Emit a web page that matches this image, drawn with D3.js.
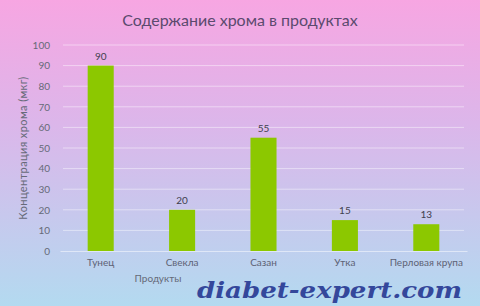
<!DOCTYPE html>
<html>
<head>
<meta charset="utf-8">
<script src="https://cdn.jsdelivr.net/npm/d3@7"></script>
<style>
  body { margin: 0; }
  svg { display: block; }
</style>
</head>
<body>
<svg id="chart" width="480" height="306"></svg>
<script>
// chart data
var products = ['Тунец', 'Свекла', 'Сазан', 'Утка', 'Перловая крупа'];
var chromium = [90, 20, 55, 15, 13];
var yTicks = [0, 10, 20, 30, 40, 50, 60, 70, 80, 90, 100];

var W = 480, H = 306,
  PLOT_L = 60, PLOT_R = 467,
  PLOT_T = 45, PLOT_B = 251,
  FONT = 'Lato, "Open Sans", sans-serif';

var svg = d3.select('#chart');

// background gradient
var defs = svg.append('defs');
var grad = defs.append('linearGradient')
  .attr('id', 'bg')
  .attr('x1', 0).attr('y1', 0)
  .attr('x2', 0).attr('y2', 1);
grad.append('stop').attr('offset', '0%').attr('stop-color', '#f7a6e2');
grad.append('stop').attr('offset', '40%').attr('stop-color', '#dcb6ea');
grad.append('stop').attr('offset', '100%').attr('stop-color', '#b3daf0');

svg.append('rect')
  .attr('width', W).attr('height', H)
  .attr('fill', 'url(#bg)');

var x = d3.scaleBand()
  .domain(products)
  .range([PLOT_L, PLOT_R])
  .paddingInner(0.68)
  .paddingOuter(0.34);

var y = d3.scaleLinear()
  .domain([0, 100])
  .range([PLOT_B, PLOT_T]);

// gridlines
svg.append('g')
  .selectAll('line')
  .data(yTicks.slice(1))
  .enter()
  .append('line')
    .attr('x1', 63)
    .attr('x2', 464)
    .attr('y1', function(d) { return y(d); })
    .attr('y2', function(d) { return y(d); })
    .attr('stroke', 'white')
    .attr('stroke-opacity', 0.45)
    .attr('stroke-width', 1);

// y axis labels
var yAxis = d3.axisLeft(y)
  .tickValues(yTicks)
  .tickSize(0)
  .tickPadding(0);

var yG = svg.append('g')
  .attr('transform', 'translate(50,0)')
  .call(yAxis);
yG.select('.domain').remove();
yG.selectAll('text')
  .style('font-family', FONT)
  .style('font-size', '10px')
  .attr('fill', '#666a78');

// x axis labels
var xAxis = d3.axisBottom(x).tickSize(0).tickPadding(0);
var xG = svg.append('g')
  .attr('transform', 'translate(0,' + (PLOT_B + 8) + ')')
  .call(xAxis);
xG.select('.domain')
  .attr('transform', 'translate(0,-8)')
  .attr('stroke', 'white')
  .attr('stroke-opacity', 0.5);
xG.selectAll('text')
  .style('font-family', FONT)
  .style('font-size', '10px')
  .attr('fill', '#5d6275');

// bars
svg.append('g')
  .selectAll('rect')
  .data(chromium)
  .enter()
  .append('rect')
    .attr('x', function(d, i) { return x(products[i]); })
    .attr('y', function(d) { return y(d); })
    .attr('width', x.bandwidth())
    .attr('height', function(d) { return y(0) - y(d); })
    .attr('fill', '#8cc800');

// value labels
svg.append('g')
  .selectAll('text')
  .data(chromium)
  .enter()
  .append('text')
    .attr('x', function(d, i) { return x(products[i]) + x.bandwidth() / 2; })
    .attr('y', function(d) { return y(d) - 6; })
    .style('text-anchor', 'middle')
    .style('font-family', FONT)
    .style('font-size', '10px')
    .attr('fill', '#3e3f4e')
    .text(function(d) { return d; });

// title
svg.append('text')
  .attr('x', 240)
  .attr('y', 26)
  .style('text-anchor', 'middle')
  .style('font-family', FONT)
  .style('font-size', '16px')
  .attr('fill', '#5b4a6e')
  .text('Содержание хрома в продуктах');

// axis titles
svg.append('text')
  .attr('transform', 'translate(27,' + ((PLOT_T + PLOT_B) / 2) + ') rotate(-90)')
  .style('text-anchor', 'middle')
  .style('font-family', FONT)
  .style('font-size', '11px')
  .style('letter-spacing', '0.4px')
  .attr('fill', '#666a78')
  .text('Концентрация  хрома (мкг)');

svg.append('text')
  .attr('x', 158)
  .attr('y', 282)
  .style('text-anchor', 'middle')
  .style('font-family', FONT)
  .style('font-size', '10px')
  .attr('fill', '#666a78')
  .text('Продукты');

// watermark
svg.append('text')
  .attr('x', 197)
  .attr('y', 298)
  .attr('textLength', 265)
  .attr('lengthAdjust', 'spacingAndGlyphs')
  .style('font-family', '"DejaVu Serif", serif')
  .style('font-weight', 'bold')
  .style('font-style', 'italic')
  .style('font-size', '22px')
  .attr('fill', '#34479b')
  .text('diabet-expert.com');
</script>
</body>
</html>
